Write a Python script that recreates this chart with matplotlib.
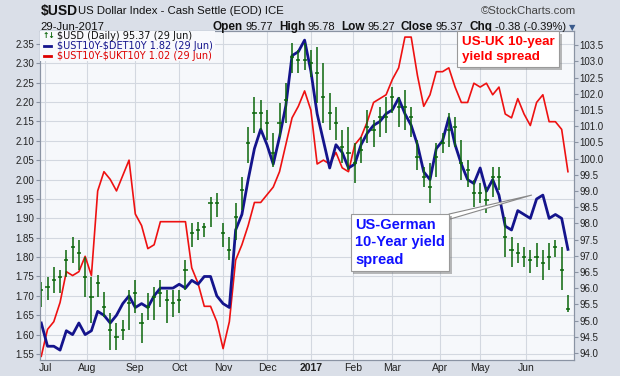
import numpy as np
import matplotlib
matplotlib.use('Agg')
import matplotlib.pyplot as plt
from matplotlib.patches import Rectangle
import matplotlib.patheffects as pe

plt.rcParams['font.family'] = ['Liberation Sans', 'DejaVu Sans']

# trading sessions counted from 29-Jun-2016 (index 0), read every 3rd session
days = np.arange(0, 253, 3)

# $UST10Y-$DET10Y (left scale)
spread_de = [1.63, 1.57, 1.57, 1.56, 1.61, 1.60, 1.63, 1.60, 1.61, 1.66, 1.65, 1.63, 1.65, 1.68, 1.70, 1.67, 1.68, 1.67, 1.70, 1.72, 1.72, 1.72,
             1.73, 1.72, 1.74, 1.73, 1.75, 1.75, 1.70, 1.68, 1.67, 1.87, 1.91, 2.00, 2.08, 2.13, 2.09, 2.04, 2.11, 2.19, 2.32, 2.33, 2.36, 2.28,
             2.17, 2.10, 2.03, 2.09, 2.07, 2.03, 2.04, 2.09, 2.12, 2.14, 2.15, 2.17, 2.18, 2.21, 2.17, 2.14, 2.09, 2.02, 2.00, 2.08, 2.10, 2.16,
             2.09, 2.04, 2.00, 1.99, 2.03, 1.97, 2.00, 1.96, 1.88, 1.87, 1.92, 1.91, 1.90, 1.95, 1.96, 1.90, 1.91, 1.90, 1.82]

# $UST10Y-$UKT10Y (own hidden scale)
spread_uk = [0.54, 0.61, 0.63, 0.68, 0.76, 0.75, 0.76, 0.80, 0.75, 0.97, 1.02, 1.00, 0.97, 1.01, 1.05, 0.91, 0.88, 0.82, 0.83, 0.89, 0.89, 0.89,
             0.89, 0.89, 0.77, 0.73, 0.67, 0.67, 0.63, 0.56, 0.63, 0.79, 0.83, 0.88, 0.94, 0.94, 0.96, 0.98, 1.02, 1.09, 1.16, 1.19, 1.23, 1.18,
             1.04, 1.05, 1.04, 1.07, 1.03, 1.02, 1.09, 1.11, 1.15, 1.20, 1.21, 1.22, 1.26, 1.29, 1.37, 1.37, 1.27, 1.19, 1.22, 1.28, 1.28, 1.29,
             1.24, 1.20, 1.20, 1.25, 1.24, 1.25, 1.22, 1.24, 1.17, 1.16, 1.21, 1.17, 1.14, 1.20, 1.22, 1.15, 1.15, 1.13, 1.02]

# $USD bars (right scale)
usd_high = [96.20, 96.35, 96.66, 96.56, 97.18, 97.59, 97.49, 96.97, 96.35, 96.41, 95.89, 95.23, 94.92, 95.02, 95.94, 96.25, 95.23, 95.84, 96.05, 96.25, 95.94, 95.94,
            95.94, 96.87, 98.00, 98.05, 98.00, 98.82, 98.93, 98.00, 97.59, 98.62, 99.44, 100.98, 101.91, 101.81, 101.50, 100.78, 101.71, 102.32, 103.56, 103.35, 103.56, 103.35,
            103.45, 102.94, 102.02, 101.60, 100.88, 100.98, 100.47, 100.68, 101.50, 101.19, 101.60, 101.91, 102.22, 101.91, 102.12, 101.60, 100.57, 99.75, 99.85, 100.47, 100.78, 101.40,
            101.29, 100.57, 99.96, 99.34, 99.24, 99.13, 99.75, 99.75, 98.21, 97.59, 97.39, 97.28, 97.18, 97.39, 97.18, 97.39, 97.49, 97.28, 95.78]
usd_low = [95.43, 95.64, 95.84, 95.84, 96.35, 96.77, 96.56, 95.74, 94.92, 95.74, 95.12, 94.09, 94.09, 94.40, 94.71, 95.23, 94.30, 95.02, 95.02, 95.43, 94.92, 95.12,
           95.23, 95.94, 97.28, 97.49, 97.59, 97.90, 98.21, 97.28, 96.87, 97.49, 98.41, 99.85, 100.78, 100.88, 100.57, 99.75, 100.68, 101.09, 102.63, 102.63, 102.73, 102.53,
           101.71, 101.09, 100.88, 100.57, 99.85, 99.65, 99.24, 99.85, 100.47, 100.37, 100.68, 100.78, 101.40, 100.98, 100.88, 100.68, 99.65, 99.13, 98.62, 99.44, 100.16, 100.37,
           100.37, 99.34, 99.13, 98.52, 98.62, 98.31, 98.82, 99.03, 96.97, 96.66, 96.77, 96.66, 96.46, 96.66, 96.25, 96.56, 96.97, 95.94, 95.27]
usd_close = [95.94, 96.05, 96.25, 96.35, 96.87, 97.28, 97.08, 96.35, 95.74, 96.15, 95.43, 94.71, 94.50, 94.71, 95.53, 95.84, 94.92, 95.43, 95.74, 95.84, 95.64, 95.53,
             95.64, 96.56, 97.69, 97.80, 97.90, 98.62, 98.62, 97.69, 97.18, 98.21, 99.03, 100.47, 101.40, 101.40, 101.09, 100.16, 101.09, 101.81, 103.15, 103.04, 103.04, 102.94,
             102.63, 101.91, 101.40, 101.09, 100.37, 100.16, 99.85, 100.27, 100.98, 100.88, 101.29, 101.29, 101.91, 101.60, 101.60, 101.29, 100.06, 99.44, 99.13, 100.06, 100.47, 100.88,
             100.98, 99.85, 99.65, 98.93, 98.93, 98.72, 99.44, 99.44, 97.59, 97.18, 97.08, 96.97, 96.87, 96.97, 96.77, 96.97, 97.28, 96.56, 95.37]

# first session of each month
month_pos = [2, 22, 45, 66, 87, 108, 129, 149, 168, 191, 210, 232]
month_lbl = ['Jul', 'Aug', 'Sep', 'Oct', 'Nov', 'Dec', '2017', 'Feb', 'Mar', 'Apr', 'May', 'Jun']
left_ticks = np.arange(1.55, 2.351, 0.05)
right_ticks = np.arange(94.0, 103.51, 0.5)

W, H = 620, 376
BG = '#dadfe8'
FRAME = '#8a93a3'
GREEN = '#0a660a'
NAVY = '#14148c'
RED = '#ee1111'

fig = plt.figure(figsize=(6.2, 3.76), dpi=100, facecolor=BG)
ax = fig.add_axes([40 / W, 16 / H, 534 / W, 329 / H])
ax.set_facecolor('#f6f8fb')
ax.set_xlim(-0.6, 254.9)
ax.set_ylim(1.5345, 2.3835)
ax.set_yticks(left_ticks)
ax.set_yticklabels([f'{t:.2f}' for t in left_ticks])
ax.set_xticks(month_pos)
ax.set_xticklabels(month_lbl)
ax.get_xticklabels()[6].set_fontweight('bold')
ax.grid(True, color='#d3d8e0', lw=0.8)
ax.tick_params(axis='y', labelsize=7, length=3, pad=1, color=FRAME, labelcolor='#222222')
ax.tick_params(axis='x', labelsize=7.5, length=0, pad=2, labelcolor='#222222')
for s in ax.spines.values():
    s.set_color(FRAME)

# UK spread on its own (hidden) scale
ax_uk = ax.twinx()
ax_uk.set_ylim(0.5304, 1.3858)
ax_uk.axis('off')
ax_uk.plot(days, spread_uk, color=RED, lw=1.2)

# German spread on the left scale
ax_de = ax.twinx()
ax_de.set_ylim(ax.get_ylim())
ax_de.axis('off')
ax_de.plot(days, spread_de, color=NAVY, lw=2.0, solid_joinstyle='round')

# USD bars on the right scale
ax_usd = ax.twinx()
ax_usd.set_ylim(93.784, 103.938)
ax_usd.set_yticks(right_ticks)
ax_usd.set_yticklabels([f'{t:.1f}' for t in right_ticks])
ax_usd.tick_params(axis='y', labelsize=7, length=3, pad=1, color=FRAME, labelcolor='#222222')
for s in ax_usd.spines.values():
    s.set_color(FRAME)
ax_usd.vlines(days, usd_low, usd_high, color=GREEN, lw=1.1)
ax_usd.hlines(usd_close, days - 1.0, days + 1.0, color=GREEN, lw=1.1)

# legend block
ax_usd.add_patch(Rectangle((0, 0.909), 0.328, 0.091, transform=ax_usd.transAxes,
                           fc='#f8f9fc', ec='none', zorder=5))
leg = [(r'\$USD (Daily) 95.37 (29 Jun)', '#111111'),
       (r'\$UST10Y-\$DET10Y 1.82 (29 Jun)', NAVY),
       (r'\$UST10Y-\$UKT10Y 1.02 (29 Jun)', '#dd0000')]
for k, (txt, col) in enumerate(leg):
    yy = 0.9857 - k * 0.0304
    ax_usd.text(0.032, yy, txt, transform=ax_usd.transAxes, fontsize=7,
                family='DejaVu Sans', color=col, va='center', zorder=6)
ax_usd.text(0.004, 0.9857, '\u2191\u2193', transform=ax_usd.transAxes, fontsize=5.5,
            family='DejaVu Sans', color=GREEN, fontweight='bold', va='center', zorder=6)
ax_usd.plot([0.007, 0.02], [0.9553, 0.9553], transform=ax_usd.transAxes, color=NAVY, lw=2, zorder=6)
ax_usd.plot([0.007, 0.02], [0.9249, 0.9249], transform=ax_usd.transAxes, color='#dd0000', lw=2, zorder=6)

# header
def fx(px):
    return px / W

def fy(py):
    return 1 - py / H

fig.text(fx(41), fy(11), r'\$USD', fontsize=10, fontweight='bold', va='center', color='#111111')
fig.text(fx(78), fy(11), 'US Dollar Index - Cash Settle (EOD) ICE', fontsize=8.2, va='center', color='#111111')
fig.text(fx(576), fy(11), '\u00a9StockCharts.com', fontsize=8.2, ha='right', va='center', color='#444444')
fig.text(fx(40), fy(27), '29-Jun-2017', fontsize=8.2, va='center', color='#111111')

quote = [('Open', True), ('95.77', False), ('High', True), ('95.78', False),
         ('Low', True), ('95.27', False), ('Close', True), ('95.37', False),
         ('Chg', True), ('-0.38 (-0.39%)', False)]
renderer = fig.canvas.get_renderer()
xr = 566
for txt, bold in reversed(quote):
    t = fig.text(fx(xr), fy(27), txt, fontsize=8.5 if bold else 8,
                 fontweight='bold' if bold else 'normal', ha='right', va='center', color='#111111')
    xr -= t.get_window_extent(renderer).width + (6 if bold else 2.5)
fig.text(fx(569), fy(28), '\u25bc', fontsize=6, family='DejaVu Sans', va='center', color='#3a5a8c')

# call-out boxes
shadow = [pe.withSimplePatchShadow(offset=(2, -2), shadow_rgbFace='#777777', alpha=0.5)]
uk = fig.text(fx(462), fy(36), 'US-UK 10-year\nyield spread', color='#ff0000', fontsize=9.6,
              fontweight='bold', va='top', ha='left', linespacing=1.3,
              bbox=dict(boxstyle='square,pad=0.35', fc='white', ec='#9a9a9a', lw=0.8), zorder=20)
uk.get_bbox_patch().set_path_effects(shadow)

de = ax_usd.annotate('US-German\n10-Year yield\nspread', xy=(234.6, 1.96), xycoords=ax_de.transData,
                     xytext=(355, H - 218), textcoords='figure pixels',
                     color='#1010ff', fontsize=10.5, fontweight='bold', va='top', ha='left',
                     linespacing=1.3, zorder=20,
                     bbox=dict(boxstyle='square,pad=0.3', fc='white', ec='#9a9a9a', lw=0.8),
                     arrowprops=dict(arrowstyle='wedge,tail_width=0.35,shrink_factor=0.5',
                                     fc='white', ec='#888888', lw=0.8, relpos=(0.97, 0.99),
                                     shrinkA=0, shrinkB=0))
de.get_bbox_patch().set_path_effects(shadow)

fig.savefig('out.png', dpi=100, facecolor=BG)
